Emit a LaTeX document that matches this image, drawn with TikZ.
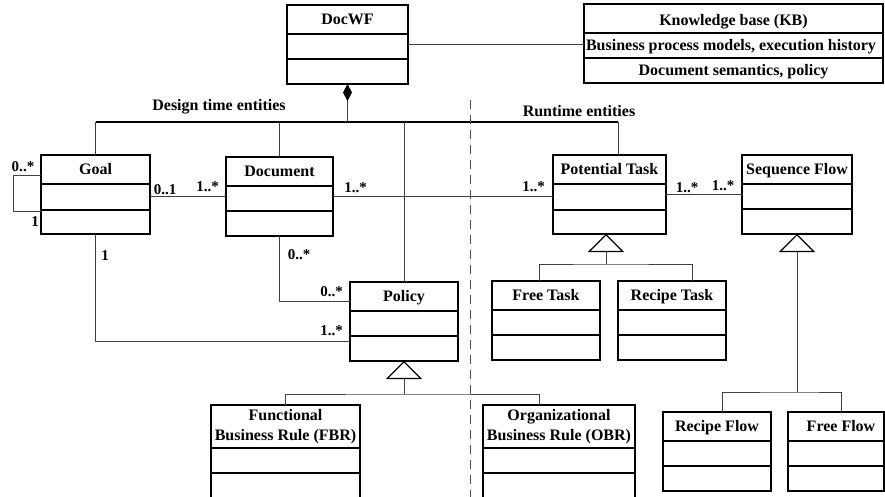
\documentclass[tikz,border=0pt]{standalone}
\usepackage{fontspec}
\setmainfont{Liberation Serif}
\usetikzlibrary{arrows.meta,calc}

\tikzset{
  classbox/.style={draw=black, line width=1.5pt, inner sep=0pt, outer sep=0pt},
  divider/.style={draw=black, line width=1.5pt},
  classname/.style={font=\fontsize{16}{19.5}\selectfont\bfseries, inner sep=0pt,
    text height=10.5pt, text depth=0pt, align=center},
  twolines/.style={text height=, text depth=},
  mult/.style={font=\fontsize{15}{18}\selectfont\bfseries, inner sep=0pt,
    text height=10pt, text depth=0pt},
  assoc/.style={draw=black!75, line width=0.9pt},
  groupbar/.style={draw=black, line width=2.2pt},
  boundary/.style={draw=black!70, line width=1pt, dash pattern=on 9pt off 6pt},
  gen/.style={assoc, -{Triangle[open, length=18pt, width=36pt, color=black, line width=1.2pt]}},
  comp/.style={assoc, {Diamond[length=17pt, width=9pt, color=black, fill=black]}-},
}

% \umlclass{id}{x1}{y1}{x2}{y2}{divider1}{divider2}{name}{extra options of the name}
\newcommand\umlclass[9]{%
  \node[classbox, minimum width={#4-#2}, minimum height={#5-#3}] (#1)
    at ({(#2+#4)/2},{(#3+#5)/2}) {};
  \draw[divider] (#1.west |- 0,#6) -- (#1.east |- 0,#6);
  \draw[divider] (#1.west |- 0,#7) -- (#1.east |- 0,#7);
  \node[classname, #9] (#1-name) at ({(#2+#4)/2},{(#3+#6)/2}) {#8};
}

\begin{document}
\begin{tikzpicture}[x=1pt, y=-1pt]
  \useasboundingbox (0,0) rectangle (885,497);
  \clip (0,0) rectangle (885,497);

  % classes
  \umlclass{docwf}{287}{5}{408}{84}{34}{59}{DocWF}{}
  \umlclass{goal}{41}{155}{150}{234}{184}{210}{Goal}{}
  \umlclass{doc}{226}{157}{333}{236}{186}{211}{Document}{}
  \umlclass{policy}{350}{282}{458}{361}{311}{336}{Policy}{}
  \umlclass{pt}{553}{155}{666}{234}{184}{210}{Potential Task}{}
  \umlclass{sf}{742}{155}{852}{234}{184}{209}{Sequence Flow}{}
  \umlclass{freetask}{492}{281}{600}{360}{310}{335}{Free Task}{}
  \umlclass{recipetask}{618}{281}{726}{360}{310}{335}{Recipe Task}{}
  \umlclass{fbr}{211}{405}{360}{530}{448}{473}{Functional\\Business Rule (FBR)}{twolines}
  \umlclass{obr}{483}{405}{635}{530}{448}{473}{Organizational\\Business Rule (OBR)}{twolines}
  \umlclass{recipeflow}{663}{412}{771}{491}{441}{466}{Recipe Flow}{}
  \umlclass{freeflow}{788}{412}{884}{491}{441}{466}{Free Flow}{xshift=5pt}

  % knowledge base
  \node[classbox, minimum width=299, minimum height=79] (kb) at (733.5,43.5) {};
  \draw[divider] (kb.west |- 0,33) -- (kb.east |- 0,33);
  \draw[divider] (kb.west |- 0,58) -- (kb.east |- 0,58);
  \node[classname] (kb-title) at (733.5,20) {Knowledge base (KB)};
  \node[classname] (kb-row1) at (731,45) {Business process models, execution history};
  \node[classname] (kb-row2) at (733.5,70) {Document semantics, policy};
  \draw[assoc] (docwf.east) -- (docwf.east -| kb.west);

  % design time / runtime grouping
  \coordinate (barL) at (95.5,122);
  \coordinate (barR) at (618,122);
  \draw[groupbar] (barL) -- (barR);
  \draw[comp] (docwf.south) -- (docwf.south |- barL);
  \draw[assoc] (goal.north) -- (goal.north |- barL);
  \draw[assoc] (doc.north) -- (doc.north |- barL);
  \draw[assoc] (policy.north) -- (policy.north |- barL);
  \draw[assoc] (barR) -- (barR |- pt.north);
  \node[classname] (designlabel) at (219,105) {Design time entities};
  \node[classname] (runtimelabel) at (579,111) {Runtime entities};

  \coordinate (sepTop) at (470,100);
  \coordinate (sepBot) at (470,500);
  \draw[boundary] (sepTop) -- (sepBot);

  % associations
  \draw[assoc] ($(goal.north west)+(0,20)$) -| (13,211) -- ($(goal.north west)+(0,56)$);
  \draw[assoc] (goal.east |- doc.west) -- (doc.west);
  \draw[assoc] (doc.east) -- (doc.east -| pt.west);
  \draw[assoc] (pt.east) -- (pt.east -| sf.west);
  \draw[assoc] (doc.south) |- ($(policy.north west)+(0,19)$);
  \draw[assoc] (goal.south) |- ($(policy.north west)+(0,59)$);

  % multiplicities
  \node[mult] (m1) at (23,166.5) {0..*};
  \node[mult] (m2) at (35,221) {1};
  \node[mult] (m3) at (165,189) {0..1};
  \node[mult] (m4) at (207.5,186.5) {1..*};
  \node[mult] (m5) at (355.5,187) {1..*};
  \node[mult] (m6) at (533.5,186.5) {1..*};
  \node[mult] (m7) at (687,188) {1..*};
  \node[mult] (m8) at (723,185) {1..*};
  \node[mult] (m9) at (105,255) {1};
  \node[mult] (m10) at (299,254) {0..*};
  \node[mult] (m11) at (331.5,291.5) {0..*};
  \node[mult] (m12) at (331.5,330) {1..*};

  % generalizations
  \coordinate (polJoin) at (policy.south |- 0,394);
  \coordinate (obrTap) at ($(obr.north west)+(56,0)$);
  \draw[gen] (polJoin) -- (policy.south);
  \draw[assoc] (fbr.north) |- (polJoin) -| (obrTap);

  \coordinate (ptJoin) at (606,264);
  \coordinate (ftTap) at ($(freetask.north west)+(47,0)$);
  \coordinate (rtTap) at ($(recipetask.north west)+(74,0)$);
  \draw[gen] (ptJoin) -- (ptJoin |- pt.south);
  \draw[assoc] (ftTap) |- (ptJoin) -| (rtTap);

  \coordinate (sfJoin) at (sf.south |- 0,392);
  \coordinate (rfTap) at ($(recipeflow.north west)+(59,0)$);
  \coordinate (ffTap) at ($(freeflow.north west)+(53,0)$);
  \draw[gen] (sfJoin) -- (sf.south);
  \draw[assoc] (rfTap) |- (sfJoin) -| (ffTap);
\end{tikzpicture}
\end{document}
